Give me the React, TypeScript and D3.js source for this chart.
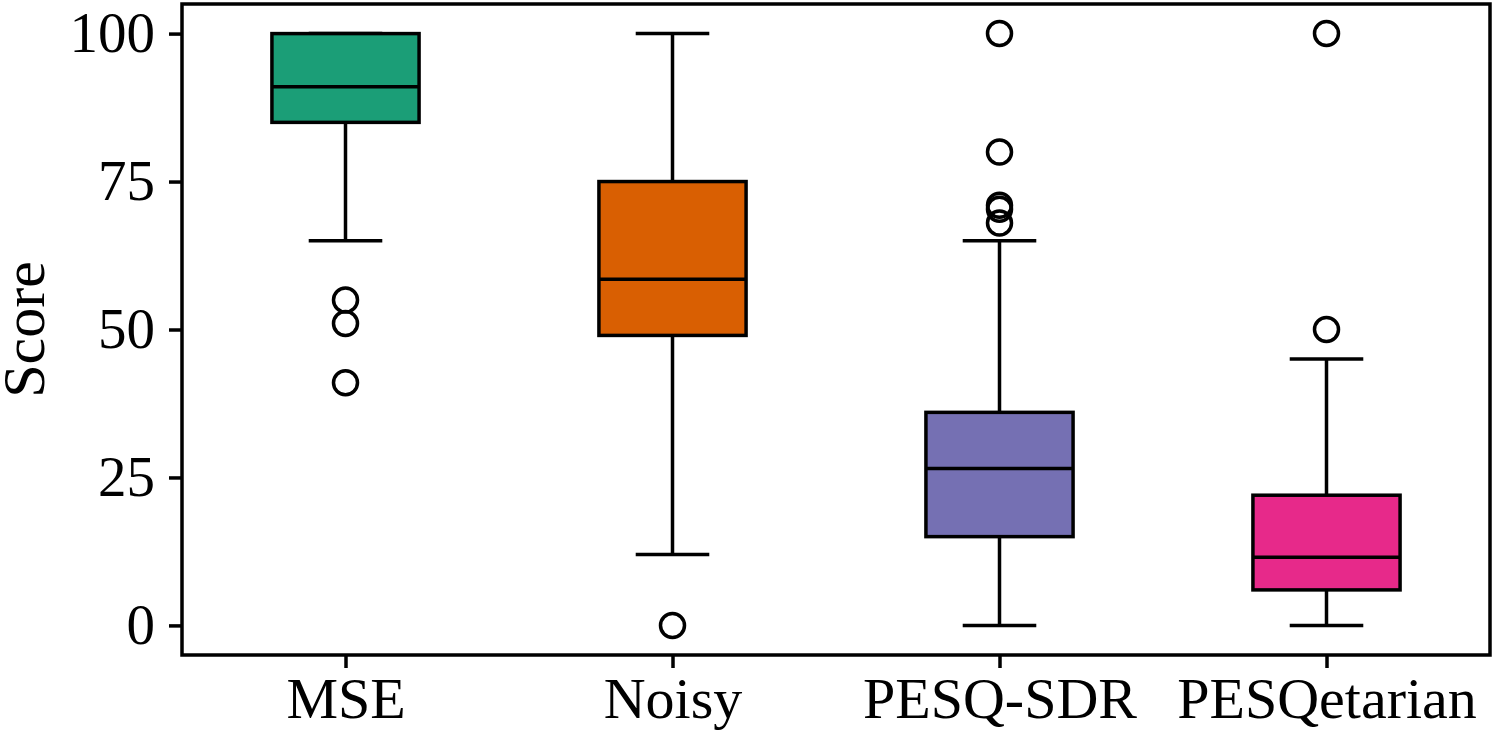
import { useEffect, useRef } from 'react';
import * as d3 from 'd3';

const categories = ['MSE', 'Noisy', 'PESQ-SDR', 'PESQetarian'];
const colors = ['#1b9e77', '#d95f02', '#7570b3', '#e7298a'];
// [whisker low, Q1, median, Q3, whisker high]
const boxStats = [
  [65, 85, 91, 100, 100],
  [12, 49, 58.5, 75, 100],
  [0, 15, 26.5, 36, 65],
  [0, 6, 11.5, 22, 45],
];
const outliers = [
  [55, 51, 41],
  [0],
  [100, 80, 71, 70.3, 68],
  [100, 50],
];
const yTicks = [0, 25, 50, 75, 100];

const BoxChart = () => {
  const ref = useRef<SVGSVGElement | null>(null);

  useEffect(() => {
    if (!ref.current) return;
    const svg = d3.select(ref.current);
    svg.selectAll('*').remove();
    const width = 1495;
    const height = 736;
    const margin = { top: 4, right: 5, bottom: 81, left: 182 };
    const font = '"Liberation Serif", "Times New Roman", serif';

    const x = d3
      .scaleLinear()
      .domain([0.5, 4.5])
      .range([margin.left, width - margin.right]);
    const y = d3
      .scaleLinear()
      .domain([-5, 105])
      .range([height - margin.bottom, margin.top]);

    const boxW = 0.45;
    const capW = boxW / 2;
    const lw = 3.5;

    const g = svg.append('g');
    categories.forEach((c, i) => {
      const pos = i + 1;
      const [lo, q1, med, q3, hi] = boxStats[i];
      // whiskers
      g.append('line')
        .attr('x1', x(pos)).attr('x2', x(pos))
        .attr('y1', y(q1)).attr('y2', y(lo))
        .attr('stroke', '#000').attr('stroke-width', lw);
      g.append('line')
        .attr('x1', x(pos)).attr('x2', x(pos))
        .attr('y1', y(q3)).attr('y2', y(hi))
        .attr('stroke', '#000').attr('stroke-width', lw);
      [lo, hi].forEach((v) => {
        g.append('line')
          .attr('x1', x(pos - capW / 2)).attr('x2', x(pos + capW / 2))
          .attr('y1', y(v)).attr('y2', y(v))
          .attr('stroke', '#000').attr('stroke-width', lw);
      });
      g.append('rect')
        .attr('x', x(pos - boxW / 2))
        .attr('y', y(q3))
        .attr('width', x(pos + boxW / 2) - x(pos - boxW / 2))
        .attr('height', y(q1) - y(q3))
        .attr('fill', colors[i])
        .attr('stroke', '#000')
        .attr('stroke-width', lw);
      g.append('line')
        .attr('x1', x(pos - boxW / 2)).attr('x2', x(pos + boxW / 2))
        .attr('y1', y(med)).attr('y2', y(med))
        .attr('stroke', '#000').attr('stroke-width', lw);
      g.selectAll(null)
        .data(outliers[i])
        .enter()
        .append('circle')
        .attr('cx', x(pos))
        .attr('cy', (d) => y(d))
        .attr('r', 12)
        .attr('fill', 'none')
        .attr('stroke', '#000')
        .attr('stroke-width', lw);
    });

    // axes
    const yAxis = svg
      .append('g')
      .attr('transform', `translate(${margin.left},0)`)
      .call(d3.axisLeft(y).tickValues(yTicks).tickSize(13).tickPadding(14));
    const xAxis = svg
      .append('g')
      .attr('transform', `translate(0,${height - margin.bottom})`)
      .call(
        d3.axisBottom(x)
          .tickValues([1, 2, 3, 4])
          .tickFormat((d) => categories[(d as number) - 1])
          .tickSize(13)
          .tickPadding(9)
      );
    [yAxis, xAxis].forEach((a) => {
      a.select('.domain').remove();
      a.selectAll('line').attr('stroke-width', lw);
      a.selectAll('text')
        .attr('font-family', font)
        .attr('fill', '#000');
    });
    yAxis.selectAll('text').attr('font-size', 57);
    xAxis.selectAll('text').attr('font-size', 58);

    svg
      .append('rect')
      .attr('x', margin.left)
      .attr('y', margin.top)
      .attr('width', width - margin.left - margin.right)
      .attr('height', height - margin.top - margin.bottom)
      .attr('fill', 'none')
      .attr('stroke', '#000')
      .attr('stroke-width', lw);

    svg
      .append('text')
      .attr('transform', `translate(44,${(margin.top + height - margin.bottom) / 2}) rotate(-90)`)
      .attr('text-anchor', 'middle')
      .attr('font-family', font)
      .attr('font-size', 60)
      .text('Score');
  }, []);

  return (
    <svg
      ref={ref}
      width={1495}
      height={736}
      style={{ position: 'absolute', left: 0, top: 0, background: '#fff' }}
    />
  );
};

export default function App() {
  return <BoxChart />;
}
